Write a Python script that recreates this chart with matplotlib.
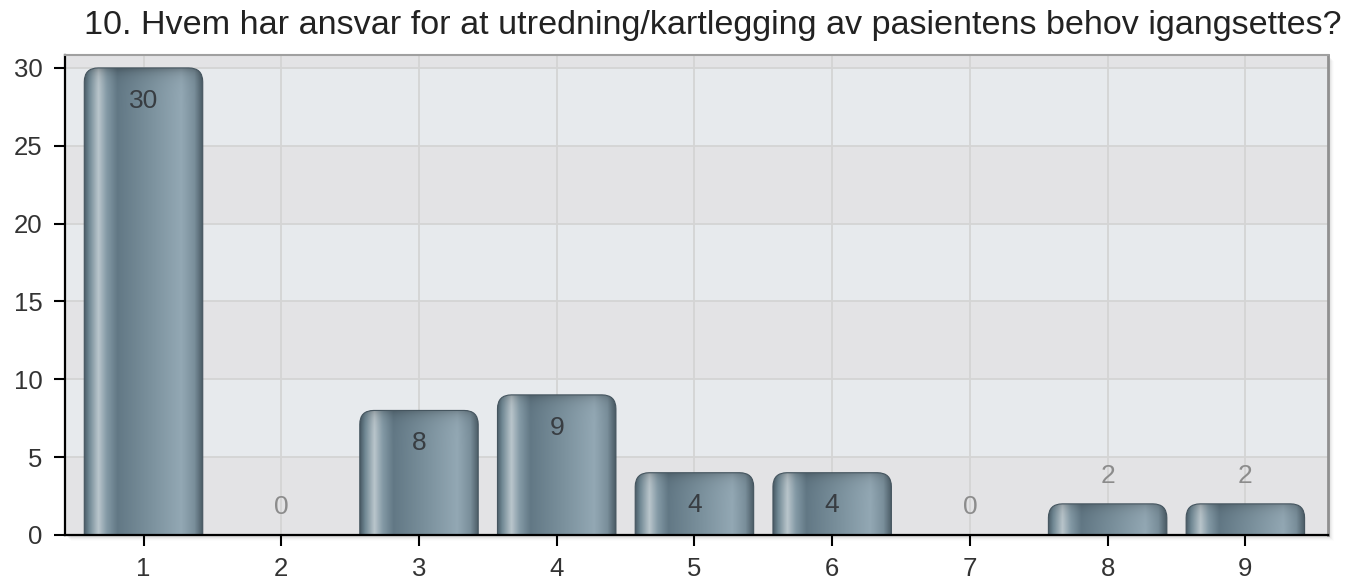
import numpy as np
import matplotlib
matplotlib.use("Agg")
import matplotlib.pyplot as plt
from matplotlib.path import Path
from matplotlib.patches import PathPatch, Rectangle

# data
categories = [1, 2, 3, 4, 5, 6, 7, 8, 9]
counts = [30, 0, 8, 9, 4, 4, 0, 2, 2]
yticks = [0, 5, 10, 15, 20, 25, 30]
title = "10. Hvem har ansvar for at utredning/kartlegging av pasientens behov igangsettes?"

plt.rcParams['font.family'] = ['Liberation Sans', 'DejaVu Sans']

fig = plt.figure(figsize=(13.5, 5.82), dpi=100)
fig.patch.set_facecolor('white')
pos = [65 / 1350, 47 / 582, 1263 / 1350, 480 / 582]

# soft drop shadow to the right / bottom of the plot area
for k, a in enumerate([0.05, 0.04, 0.03, 0.02, 0.012]):
    off = (k + 2) / 1350
    offy = (k + 2) / 582
    fig.patches.append(Rectangle((pos[0] + off, pos[1] - offy), pos[2], pos[3],
                                 transform=fig.transFigure, facecolor='black',
                                 alpha=a, edgecolor='none', zorder=-5))

ax = fig.add_axes(pos)
ax.set_zorder(2)
ax.set_xlim(0.43, 9.6)
ax.set_ylim(0, 30.83)
ax.set_facecolor('#e7eaed')

# alternating horizontal bands
bands = yticks + [30.83]
for i in range(len(bands) - 1):
    if i % 2 == 0:
        ax.axhspan(bands[i], bands[i + 1], color='#e3e3e5', zorder=0, lw=0)
for y in yticks[1:]:
    ax.axhline(y, color='#d4d4d4', lw=1.3, zorder=1)
for x in categories:
    ax.axvline(x, color='#d4d4d4', lw=1.3, zorder=1)

# pixel scale of data units
fig.canvas.draw()
p0 = ax.transData.transform((0, 0))
p1 = ax.transData.transform((1, 1))
pxx = p1[0] - p0[0]
pxy = p1[1] - p0[1]

# horizontal colour profile of a bar (cylinder look)
stops = [0.0, 0.04, 0.12, 0.19, 0.28, 0.55, 0.82, 0.93, 1.0]
cols = ['#4a5c67', '#6f8793', '#bac6cc', '#849aa6', '#627885',
        '#7a909c', '#93a8b4', '#7a8f9b', '#4a5b65']
rgb = np.array([matplotlib.colors.to_rgb(c) for c in cols])
nx = 200
xs = np.linspace(0, 1, nx)
profile = np.stack([np.interp(xs, stops, rgb[:, j]) for j in range(3)], axis=1)

width = 0.86
r = 14
for x, v in zip(categories, counts):
    if v > 0:
        x0, x1 = x - width / 2, x + width / 2
        rx, ry = r / pxx, r / pxy
        verts = [(x0, -0.5), (x0, v - ry), (x0, v), (x0 + rx, v),
                 (x1 - rx, v), (x1, v), (x1, v - ry), (x1, -0.5), (x0, -0.5)]
        codes = [Path.MOVETO, Path.LINETO, Path.CURVE3, Path.CURVE3,
                 Path.LINETO, Path.CURVE3, Path.CURVE3, Path.LINETO, Path.CLOSEPOLY]
        patch = PathPatch(Path(verts, codes), facecolor='none',
                          edgecolor='#45555f', lw=0.8, zorder=3)
        ax.add_patch(patch)
        ny = 120
        ys = np.linspace(v, 0, ny)
        d = (v - ys) * pxy
        shade = 1 - 0.22 * np.exp(-d / 6.0)
        img = profile[None, :, :] * shade[:, None, None]
        im = ax.imshow(img, extent=[x0, x1, 0, v], aspect='auto',
                       interpolation='bilinear', zorder=2)
        im.set_clip_path(patch)
    if v >= 4:
        ax.text(x, v - 2.1, str(v), ha='center', va='center',
                fontsize=19, color='#383d42', zorder=4)
    else:
        ax.text(x, v + 1.8, str(v), ha='center', va='center',
                fontsize=19, color='#8c8c8c', zorder=4)

ax.set_xticks(categories)
ax.set_yticks(yticks)
ax.tick_params(axis='both', labelsize=18.5, length=8, width=1.5,
               color='black', labelcolor='#333333', direction='out')
ax.tick_params(axis='x', pad=8)
ax.tick_params(axis='y', pad=8)
for s in ['left', 'bottom']:
    ax.spines[s].set_color('black')
    ax.spines[s].set_linewidth(1.6)
ax.spines['top'].set_color('#a0a0a0')
ax.spines['top'].set_linewidth(1.5)
ax.spines['right'].set_color('#909090')
ax.spines['right'].set_linewidth(2.0)
for sp in ax.spines.values():
    sp.set_zorder(5)

fig.text(0.528, 0.956, title, ha='center', va='center',
         fontsize=24.6, color='#222222')

fig.savefig('out.png', dpi=100)
